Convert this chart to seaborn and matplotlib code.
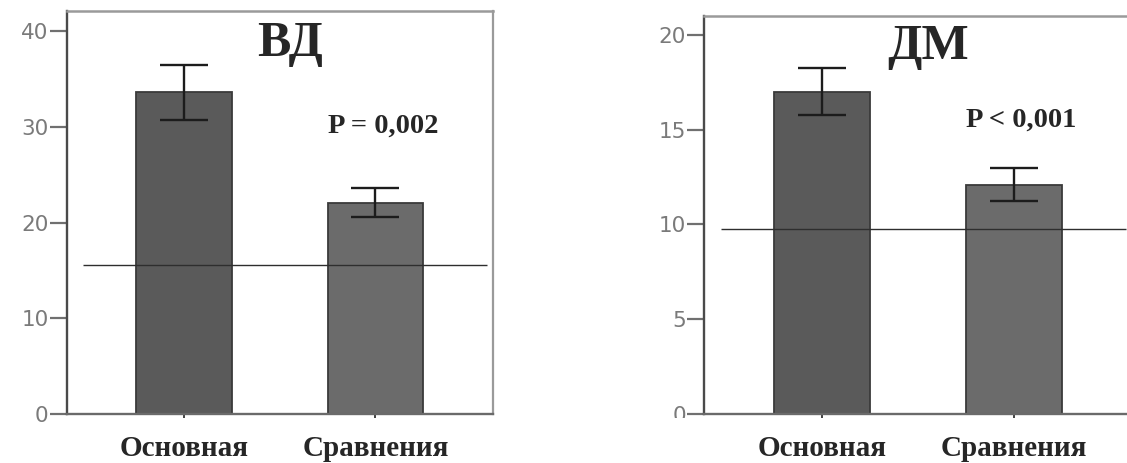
import matplotlib.pyplot as plt
import pandas as pd
import seaborn as sns
from matplotlib.patches import Rectangle

# %%
groups = ["Основная", "Сравнения"]
bar_colors = ["#5a5a5a", "#6b6b6b"]

vd_mean = [33.6, 22.1]
vd_err = [2.85, 1.5]
vd_ref = 15.6
vd_ticks = [0, 10, 20, 30, 40]

dm_mean = [17.0, 12.1]
dm_err = [1.23, 0.88]
dm_ref = 9.77
dm_ticks = [0, 5, 10, 15, 20]

panels = [
    {"title": "ВД", "mean": vd_mean, "err": vd_err, "ref": vd_ref, "p": "P = 0,002",
     "ticks": vd_ticks, "ymax": 42.1, "title_y": 37.4, "p_y": 29.4,
     "pos": [0.0592, 0.1052, 0.3785, 0.8711]},
    {"title": "ДМ", "mean": dm_mean, "err": dm_err, "ref": dm_ref, "p": "P < 0,001",
     "ticks": dm_ticks, "ymax": 21.0, "title_y": 18.7, "p_y": 15.15,
     "pos": [0.6247, 0.1052, 0.3798, 0.8609]},
]

# %%
sns.set_style("ticks")
plt.rcParams["font.family"] = ["DejaVu Sans"]
serif = ["Liberation Serif", "DejaVu Serif"]

fig = plt.figure(figsize=(11.27, 4.63), dpi=100)

for pnl in panels:
    ax = fig.add_axes(pnl["pos"])
    df = pd.DataFrame({"group": groups, "value": pnl["mean"]})
    sns.barplot(
        data=df,
        x="group",
        y="value",
        hue="group",
        palette=bar_colors,
        legend=False,
        width=0.5,
        edgecolor="#3a3a3a",
        linewidth=1.3,
        errorbar=None,
        ax=ax,
    )
    ax.errorbar(
        x=range(len(groups)),
        y=pnl["mean"],
        yerr=pnl["err"],
        fmt="none",
        ecolor="#1c1c1c",
        elinewidth=1.7,
        capsize=17,
        capthick=1.7,
        zorder=4,
    )
    ax.hlines(pnl["ref"], -0.528, 1.583, color="#2e2e2e", linewidth=1.0, zorder=3)

    ax.set_xlim(-0.614, 1.617)
    ax.set_ylim(0, pnl["ymax"])
    ax.set_yticks(pnl["ticks"])
    ax.set_xlabel("")
    ax.set_ylabel("")

    ax.text(0.555, pnl["title_y"], pnl["title"], family=serif, fontweight="bold",
            fontsize=36, ha="center", va="baseline")
    ax.text(1.04, pnl["p_y"], pnl["p"], family=serif, fontweight="bold",
            fontsize=20.5, ha="center", va="baseline")

    ax.tick_params(axis="y", length=12, width=1.6, color="#707070",
                   labelcolor="#7a7a7a", labelsize=15.5, pad=1)
    ax.tick_params(axis="x", length=3, width=1.3, color="#333333",
                   labelsize=21, pad=12)
    for lbl in ax.get_xticklabels():
        lbl.set_family(serif)
        lbl.set_fontweight("bold")

    ax.spines["left"].set_color("#4a4a4a")
    ax.spines["left"].set_linewidth(1.7)
    ax.spines["bottom"].set_color("#6a6a6a")
    ax.spines["bottom"].set_linewidth(1.7)
    ax.spines["top"].set_color("#9a9a9a")
    ax.spines["top"].set_linewidth(1.8)
    ax.spines["right"].set_color("#9a9a9a")
    ax.spines["right"].set_linewidth(1.6)

# the source image is cropped just under the second panel's axis
fig.patches.append(
    Rectangle((590 / 1127, 1 - 432 / 463), 120 / 1127, 14 / 463,
              transform=fig.transFigure, facecolor="white", edgecolor="none", zorder=10)
)

fig.savefig("out.png", dpi=100)
